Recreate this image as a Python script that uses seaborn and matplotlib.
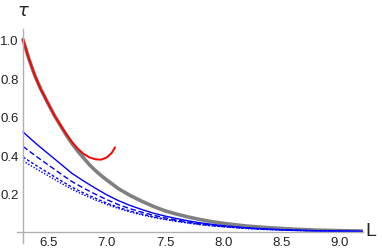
import numpy as np
import pandas as pd
import seaborn as sns
import matplotlib.pyplot as plt
from matplotlib.ticker import MultipleLocator

sns.set_style("white")
plt.rcParams['font.family'] = ['Liberation Sans', 'DejaVu Sans']
plt.rcParams['mathtext.fontset'] = 'dejavusans'

# gray curve (exact result)
L_gray = [6.28, 6.33, 6.38, 6.43, 6.5, 6.55, 6.6, 6.65, 6.7, 6.75, 6.8, 6.85, 6.9,
          6.95, 7.0, 7.1, 7.2, 7.3, 7.4, 7.5, 7.6, 7.7, 7.8, 7.9, 8.0, 8.2, 8.4,
          8.6, 8.8, 9.0, 9.2]
tau_gray = [1.0, 0.90, 0.815, 0.745, 0.662, 0.605, 0.555, 0.505, 0.46, 0.42, 0.385,
            0.35, 0.32, 0.294, 0.27, 0.225, 0.19, 0.16, 0.133, 0.11, 0.093, 0.078,
            0.065, 0.054, 0.045, 0.031, 0.022, 0.015, 0.010, 0.007, 0.005]

# red (truncated expansion)
L_red = [6.28, 6.33, 6.38, 6.43, 6.5, 6.55, 6.6, 6.65, 6.7, 6.75, 6.8, 6.85, 6.9,
         6.95, 7.0, 7.04, 7.07]
tau_red = [1.0, 0.90, 0.815, 0.745, 0.662, 0.605, 0.556, 0.51, 0.468, 0.433, 0.406,
           0.388, 0.378, 0.376, 0.388, 0.41, 0.44]

# blue family
L = [6.28, 6.34, 6.4, 6.5, 6.6, 6.7, 6.8, 6.9, 7.0, 7.1, 7.2, 7.3, 7.4, 7.5, 7.6,
     7.7, 7.8, 7.9, 8.0, 8.2, 8.4, 8.6, 8.8, 9.0, 9.2]
tau_solid = [0.52, 0.487, 0.455, 0.405, 0.355, 0.305, 0.265, 0.228, 0.193, 0.163,
             0.138, 0.117, 0.098, 0.083, 0.070, 0.058, 0.048, 0.040, 0.033, 0.022,
             0.015, 0.010, 0.007, 0.005, 0.003]
tau_dashed = [0.445, 0.417, 0.39, 0.347, 0.304, 0.262, 0.228, 0.197, 0.168, 0.142,
              0.121, 0.103, 0.087, 0.074, 0.062, 0.052, 0.043, 0.036, 0.030, 0.020,
              0.014, 0.009, 0.0065, 0.0045, 0.003]
tau_short = [0.39, 0.366, 0.343, 0.306, 0.269, 0.233, 0.203, 0.176, 0.150, 0.128,
             0.109, 0.093, 0.079, 0.067, 0.057, 0.048, 0.040, 0.033, 0.028, 0.019,
             0.013, 0.009, 0.006, 0.004, 0.003]
tau_dotted = [0.37, 0.347, 0.326, 0.291, 0.256, 0.222, 0.193, 0.167, 0.143, 0.122,
              0.104, 0.089, 0.076, 0.065, 0.055, 0.046, 0.038, 0.032, 0.027, 0.018,
              0.012, 0.008, 0.006, 0.004, 0.003]

fig = plt.figure(figsize=(3.82, 2.53), dpi=100)
ax = fig.add_axes([17 / 382, 9 / 253, (363 - 17) / 382, 214 / 253])

sns.lineplot(x=L_gray, y=tau_gray, ax=ax, color="#808080", lw=2.6, sort=False)
sns.lineplot(x=L_red, y=tau_red, ax=ax, color="#ff0000", lw=1.4, sort=False)
sns.lineplot(x=L, y=tau_solid, ax=ax, color="#0000ff", lw=1.0, sort=False)
ax.plot(L, tau_dashed, color="#0000ff", lw=1.0, dashes=(4, 2))
ax.plot(L, tau_short, color="#0000ff", lw=1.0, dashes=(2, 1.5))
ax.plot(L, tau_dotted, color="#0000ff", lw=1.0, dashes=(1, 1.2))

ax.set_xlim(6.228, 9.2)
ax.set_ylim(-0.057, 1.055)

for s in ["top", "right"]:
    ax.spines[s].set_visible(False)
ax.spines["bottom"].set_position(("data", 0))
ax.spines["left"].set_position(("data", 6.28))
for s in ["bottom", "left"]:
    ax.spines[s].set_color("#b0b0b0")
    ax.spines[s].set_linewidth(1.0)

ax.set_xticks([6.5, 7.0, 7.5, 8.0, 8.5, 9.0])
ax.set_yticks([0.2, 0.4, 0.6, 0.8, 1.0])
ax.xaxis.set_minor_locator(MultipleLocator(0.1))
ax.yaxis.set_minor_locator(MultipleLocator(0.05))
ax.tick_params(which="major", direction="in", length=4, width=0.8,
               color="#b0b0b0", labelsize=9.5, labelcolor="#222222", pad=3)
ax.tick_params(which="minor", direction="in", length=2, width=0.6, color="#b0b0b0")
ax.tick_params(axis="y", pad=3)

fig.text(23 / 382, 1 - 12 / 253, r"$\tau$", fontsize=13, ha="center", va="center")
fig.text(371 / 382, 1 - 232 / 253, "L", fontsize=14, ha="center", va="center")

fig.savefig("out.png", dpi=100)
